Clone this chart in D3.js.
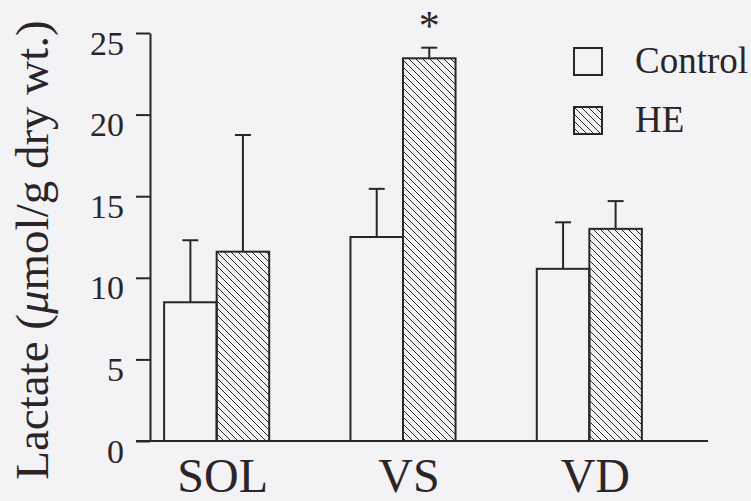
<!DOCTYPE html>
<html>
<head>
<meta charset="utf-8">
<script src="https://cdn.jsdelivr.net/npm/d3@7"></script>
<style>
  body { margin: 0; background: #f3f2f4; }
  svg { display: block; }
  text { font-family: "Liberation Serif", "Times New Roman", serif; fill: #2b2528; }
</style>
</head>
<body>
<div id="chart"></div>
<script>
// muscles on the x axis
var muscles = ["SOL", "VS", "VD"];
var groups = ["Control", "HE"];
// mean lactate values (umol/g dry wt.)
var controlMean = [8.5, 12.5, 10.55];
var heMean = [11.6, 23.45, 13.0];
// upper end of the error bars
var controlErr = [12.3, 15.45, 13.4];
var heErr = [18.75, 24.1, 14.7];
// significance marks
var starMark = ["", "*", ""];
var yTicks = [0, 5, 10, 15, 20, 25];

var width = 751, height = 501;
var ink = "#2b2528";

var svg = d3.select("#chart").append("svg")
    .attr("width", width)
    .attr("height", height);

// hatch pattern for HE bars
var defs = svg.append("defs");
defs.append("pattern")
    .attr("id", "hatch")
    .attr("patternUnits", "userSpaceOnUse")
    .attr("width", 7)
    .attr("height", 7)
  .append("path")
    .attr("d", "M0,0 L7,7 M-1,6 L1,8 M6,-1 L8,1")
    .attr("stroke", ink)
    .attr("stroke-width", 1);

var y = d3.scaleLinear().domain([0, 25]).range([441, 33]);

var x0 = d3.scaleBand()
    .domain(muscles)
    .range([123.5, 682.5])
    .paddingInner(0.436)
    .paddingOuter(0.218);

var x1 = d3.scaleBand()
    .domain(groups)
    .range([0, x0.bandwidth()]);

var rows = [];
muscles.forEach(function (m, i) {
    rows.push({muscle: m, group: "Control", mean: controlMean[i], err: controlErr[i], star: ""});
    rows.push({muscle: m, group: "HE", mean: heMean[i], err: heErr[i], star: starMark[i]});
});

// y axis
var yAxis = d3.axisLeft(y)
    .tickValues(yTicks)
    .tickSize(14)
    .tickSizeOuter(0)
    .tickPadding(12);

var gy = svg.append("g")
    .attr("transform", "translate(150,0)")
    .call(yAxis);
gy.selectAll("path, line").attr("stroke", ink).attr("stroke-width", 2);
gy.selectAll("text")
    .style("font-size", "34px")
    .attr("fill", ink)
    .attr("dy", "0.62em");

// baseline
svg.append("line")
    .attr("x1", 136).attr("x2", 708)
    .attr("y1", y(0)).attr("y2", y(0))
    .attr("stroke", ink)
    .attr("stroke-width", 2);

// error bars (upper only)
var eb = svg.append("g").selectAll("g.err")
    .data(rows)
    .enter().append("g")
    .attr("class", "err");
eb.append("line")
    .attr("x1", function (d) { return x0(d.muscle) + x1(d.group) + x1.bandwidth() / 2; })
    .attr("x2", function (d) { return x0(d.muscle) + x1(d.group) + x1.bandwidth() / 2; })
    .attr("y1", function (d) { return y(d.mean); })
    .attr("y2", function (d) { return y(d.err); })
    .attr("stroke", ink).attr("stroke-width", 2);
eb.append("line")
    .attr("x1", function (d) { return x0(d.muscle) + x1(d.group) + x1.bandwidth() / 2 - 8; })
    .attr("x2", function (d) { return x0(d.muscle) + x1(d.group) + x1.bandwidth() / 2 + 8; })
    .attr("y1", function (d) { return y(d.err); })
    .attr("y2", function (d) { return y(d.err); })
    .attr("stroke", ink).attr("stroke-width", 2);

// bars
svg.append("g").selectAll("rect")
    .data(rows)
    .enter().append("rect")
    .attr("x", function (d) { return x0(d.muscle) + x1(d.group); })
    .attr("y", function (d) { return y(d.mean); })
    .attr("width", x1.bandwidth())
    .attr("height", function (d) { return y(0) - y(d.mean); })
    .attr("fill", function (d) { return d.group === "HE" ? "url(#hatch)" : "#f3f2f4"; })
    .attr("stroke", ink)
    .attr("stroke-width", 2);

// asterisk
svg.append("g").selectAll("text")
    .data(rows.filter(function (d) { return d.star; }))
    .enter().append("text")
    .attr("x", function (d) { return x0(d.muscle) + x1(d.group) + x1.bandwidth() / 2; })
    .attr("y", function (d) { return y(d.err) - 8; })
    .attr("text-anchor", "middle")
    .style("font-size", "42px")
    .text(function (d) { return d.star; });

// category labels
svg.append("g").selectAll("text")
    .data(muscles)
    .enter().append("text")
    .attr("x", function (d) { return x0(d) + x0.bandwidth() / 2 + 6; })
    .attr("y", 492)
    .attr("text-anchor", "middle")
    .style("font-size", "48px")
    .text(function (d) { return d; });

// y label
var ylab = svg.append("text")
    .attr("transform", "translate(48,250) rotate(-90)")
    .attr("text-anchor", "middle")
    .style("font-size", "47px");
ylab.append("tspan").text("Lactate (");
ylab.append("tspan").style("font-style", "italic").text("\u03bc");
ylab.append("tspan").text("mol/g dry wt.)");

// legend
var legend = svg.append("g").selectAll("g")
    .data(groups)
    .enter().append("g")
    .attr("transform", function (d, i) { return "translate(574," + (48 + i * 59) + ")"; });
legend.append("rect")
    .attr("width", 28).attr("height", 27)
    .attr("fill", function (d) { return d === "HE" ? "url(#hatch)" : "#f3f2f4"; })
    .attr("stroke", ink)
    .attr("stroke-width", 2);
legend.append("text")
    .attr("x", 61)
    .attr("y", 25)
    .style("font-size", "37px")
    .text(function (d) { return d; });
</script>
</body>
</html>
